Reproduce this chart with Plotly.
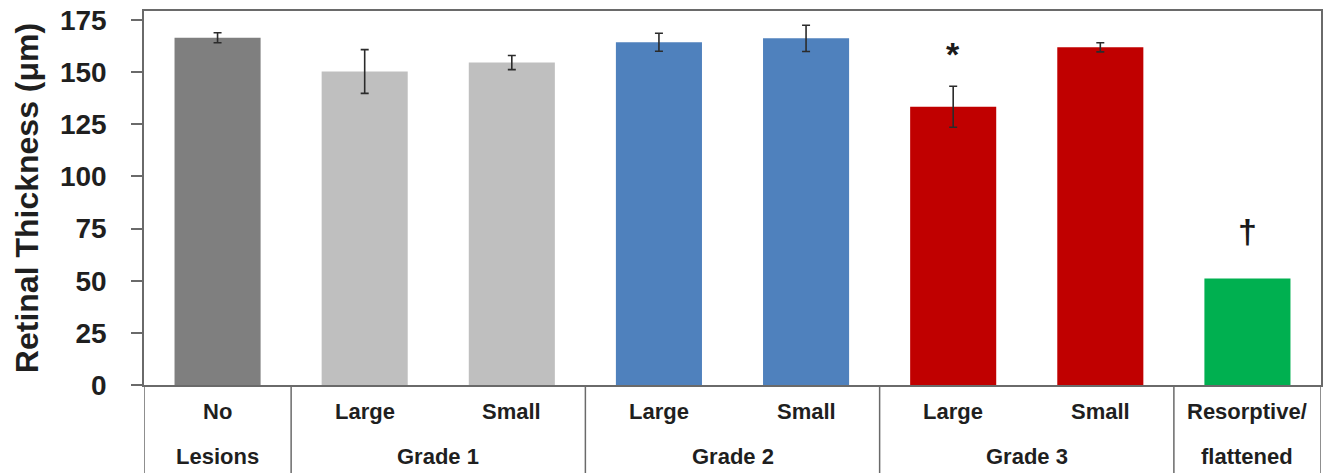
import plotly.graph_objects as go

# Retinal thickness by lesion grade and size
row1_labels = ["No", "Large", "Small", "Large", "Small", "Large", "Small", "Resorptive/"]
group_labels = ["Lesions", "Grade 1", "Grade 2", "Grade 3", "flattened"]
group_spans = [(0, 0), (1, 2), (3, 4), (5, 6), (7, 7)]
thickness = [166.5, 150.3, 154.6, 164.3, 166.2, 133.4, 161.9, 51.1]
error = [2.4, 10.5, 3.4, 4.3, 6.3, 9.8, 2.2, None]
bar_colors = ["#7f7f7f", "#bfbfbf", "#bfbfbf", "#4f81bd", "#4f81bd",
              "#c00000", "#c00000", "#00b050"]
# significance markers: (bar index, symbol, gap above the bar/whisker, pixel shift)
markers = [(5, "*", 17.4, -4), (7, "†", 22.5, 0)]

y_ticks = [0, 25, 50, 75, 100, 125, 150, 175]

FONT = "Arial, Liberation Sans, sans-serif"
LINE = "#6a6a6a"
TEXT = "#1f1f1f"

fig = go.Figure()

with_err = [i for i, e in enumerate(error) if e is not None]
no_err = [i for i, e in enumerate(error) if e is None]

fig.add_trace(go.Bar(
    x=with_err,
    y=[thickness[i] for i in with_err],
    marker=dict(color=[bar_colors[i] for i in with_err], line=dict(width=0)),
    width=0.585,
    error_y=dict(type="data", array=[error[i] for i in with_err], visible=True,
                 color="#2b2b2b", thickness=1.6, width=4),
    hoverinfo="skip",
))
fig.add_trace(go.Bar(
    x=no_err,
    y=[thickness[i] for i in no_err],
    marker=dict(color=[bar_colors[i] for i in no_err], line=dict(width=0)),
    width=0.585,
    hoverinfo="skip",
))

# category table below the axis
annotations = []
for i, lab in enumerate(row1_labels):
    annotations.append(dict(x=i, y=-0.072, xref="x", yref="paper", text=lab,
                            showarrow=False, yanchor="middle",
                            font=dict(family=FONT, size=22, color=TEXT, weight="bold")))
for lab, (a, b) in zip(group_labels, group_spans):
    annotations.append(dict(x=(a + b) / 2, y=-0.19, xref="x", yref="paper", text=lab,
                            showarrow=False, yanchor="middle",
                            font=dict(family=FONT, size=22, color=TEXT, weight="bold")))
for i, sym, gap, shift in markers:
    top = thickness[i] + (error[i] or 0)
    annotations.append(dict(x=i, y=top + gap, xref="x", yref="y", yshift=shift,
                            text=sym, showarrow=False, yanchor="middle",
                            font=dict(family=FONT, size=34, color="#1a1a1a", weight="bold")))

shapes = []
bounds = [-0.5] + [b + 0.5 for (_, b) in group_spans]
for bx in bounds:
    shapes.append(dict(type="line", xref="x", yref="paper", x0=bx, x1=bx,
                       y0=0, y1=-0.24, line=dict(color=LINE, width=1.5)))

fig.update_layout(
    width=1331, height=473,
    margin=dict(l=144, r=10, t=11, b=88),
    paper_bgcolor="white", plot_bgcolor="white",
    showlegend=False,
    barmode="overlay",
    annotations=annotations,
    shapes=shapes,
    xaxis=dict(range=[-0.5, 7.5], showticklabels=False, ticks="",
               showgrid=False, zeroline=False, automargin=False,
               showline=True, linecolor=LINE, linewidth=1.5, mirror=True),
    yaxis=dict(range=[0, 179.3], tickvals=y_ticks, ticks="outside", ticklen=11,
               tickcolor=LINE, tickwidth=1.5, ticklabelstandoff=19,
               tickfont=dict(family=FONT, size=28, color=TEXT, weight="bold"),
               showgrid=False, zeroline=False, automargin=False,
               showline=True, linecolor=LINE, linewidth=1.5, mirror=True,
               title=dict(text="Retinal Thickness (μm)", standoff=12,
                          font=dict(family=FONT, size=32, color=TEXT, weight="bold"))),
)

fig.write_html("out.html")
